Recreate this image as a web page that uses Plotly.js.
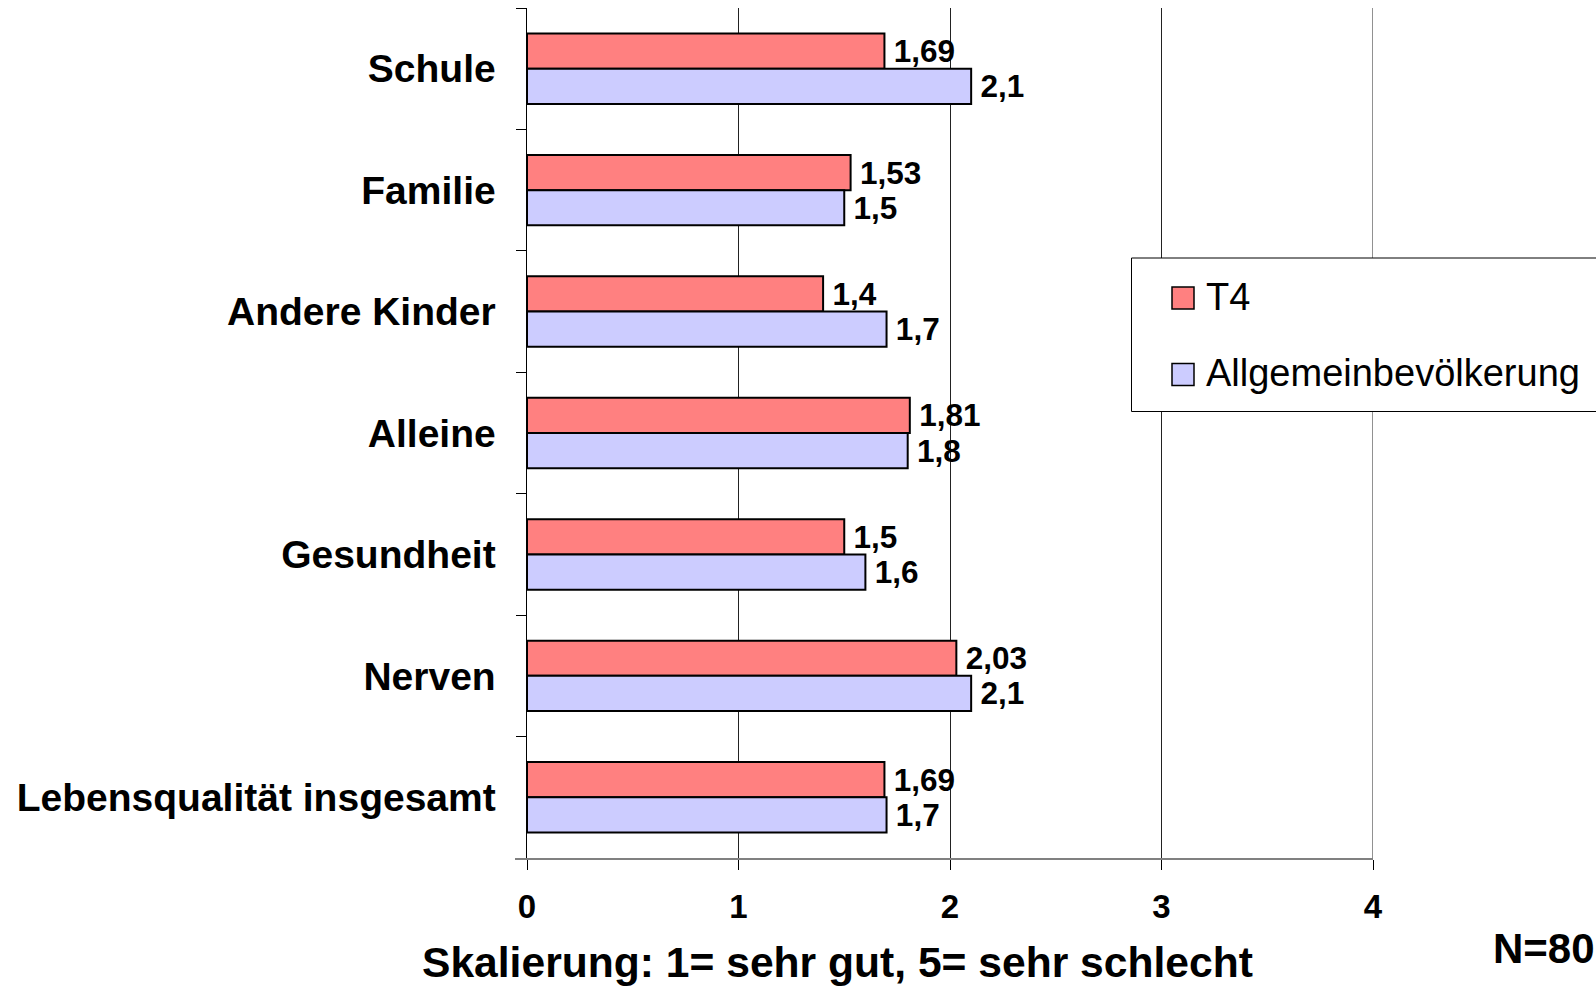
<!DOCTYPE html>
<html>
<head>
<meta charset="utf-8">
<script src="https://cdn.plot.ly/plotly-3.0.1.min.js"></script>
<style>
  html, body { margin: 0; padding: 0; background: #ffffff; }
  #chart { width: 1596px; height: 987px; }
</style>
</head>
<body>
<div id="chart"></div>
<script>
// ---- data ----
const categories = ["Schule", "Familie", "Andere Kinder", "Alleine", "Gesundheit", "Nerven", "Lebensqualität insgesamt"];
const seriesNames = ["T4", "Allgemeinbevölkerung"];
const valuesT4 = [1.69, 1.53, 1.4, 1.81, 1.5, 2.03, 1.69];
const valuesAllg = [2.1, 1.5, 1.7, 1.8, 1.6, 2.1, 1.7];
const xTickValues = [0, 1, 2, 3, 4];
const xTickLabels = ["0", "1", "2", "3", "4"];
const axisTitle = "Skalierung: 1= sehr gut, 5= sehr schlecht";
const noteText = "N=80";

// ---- layout geometry (pixels) ----
const FIG_W = 1596, FIG_H = 987;
const M = { l: 527, r: 223, t: 8, b: 129 };
const PW = FIG_W - M.l - M.r, PH = FIG_H - M.t - M.b;
const px = x => (x - M.l) / PW;
const py = y => 1 - (y - M.t) / PH;

const FONT = "Liberation Sans, Arial, Helvetica, sans-serif";
const colT4 = "#FF8080", colAllg = "#CCCCFF";
const fmt = v => "\u2009" + String(v).replace(".", ",");
const xMax = xTickValues[xTickValues.length - 1];

const barCommon = {
  type: "bar",
  orientation: "h",
  y: categories,
  textposition: "outside",
  constraintext: "none",
  cliponaxis: false,
  textfont: { family: FONT, size: 31.5, color: "#000000", weight: "bold" },
  hoverinfo: "skip",
  showlegend: false
};

const traces = [
  Object.assign({}, barCommon, {
    name: seriesNames[0], x: valuesT4, text: valuesT4.map(fmt),
    marker: { color: colT4, line: { color: "#000000", width: 2 } }
  }),
  Object.assign({}, barCommon, {
    name: seriesNames[1], x: valuesAllg, text: valuesAllg.map(fmt),
    marker: { color: colAllg, line: { color: "#000000", width: 2 } }
  })
];

const shapes = [
  // gridline at the right end of the value axis
  { type: "line", xref: "x", yref: "paper", x0: xMax, x1: xMax, y0: 0, y1: 1,
    line: { color: "#222222", width: 1 }, layer: "below" },
  // extension of x-axis line to the left of the value axis
  { type: "line", xref: "paper", yref: "paper", x0: px(515), x1: px(527), y0: py(859), y1: py(859),
    line: { color: "#808080", width: 2 }, layer: "above" },
  // legend box
  { type: "rect", xref: "paper", yref: "paper", x0: px(1131.5), x1: px(1650), y0: py(411.5), y1: py(258),
    fillcolor: "#ffffff", line: { color: "#000000", width: 1 }, layer: "above" },
  { type: "rect", xref: "paper", yref: "paper", x0: px(1172), x1: px(1194), y0: py(309), y1: py(287),
    fillcolor: colT4, line: { color: "#000000", width: 1.5 }, layer: "above" },
  { type: "rect", xref: "paper", yref: "paper", x0: px(1172), x1: px(1194), y0: py(385.5), y1: py(363.5),
    fillcolor: colAllg, line: { color: "#000000", width: 1.5 }, layer: "above" }
];

const annotations = [
  { text: seriesNames[0], xref: "paper", yref: "paper", x: px(1204), y: py(297), xanchor: "left", yanchor: "middle",
    showarrow: false, font: { family: FONT, size: 38, color: "#000000" } },
  { text: seriesNames[1], xref: "paper", yref: "paper", x: px(1204), y: py(373), xanchor: "left", yanchor: "middle",
    showarrow: false, font: { family: FONT, size: 38, color: "#000000" } },
  { text: axisTitle, xref: "paper", yref: "paper", x: px(837), y: py(962), xanchor: "center", yanchor: "middle",
    showarrow: false, font: { family: FONT, size: 42.6, color: "#000000", weight: "bold" } },
  { text: noteText, xref: "paper", yref: "paper", x: px(1491), y: py(948), xanchor: "left", yanchor: "middle",
    showarrow: false, font: { family: FONT, size: 42, color: "#000000", weight: "bold" } }
];

const layout = {
  width: FIG_W, height: FIG_H,
  margin: { l: M.l, r: M.r, t: M.t, b: M.b, pad: 0 },
  paper_bgcolor: "#ffffff", plot_bgcolor: "#ffffff",
  font: { family: FONT, color: "#000000" },
  barmode: "group",
  bargap: 0.42,
  bargroupgap: 0,
  showlegend: false,
  hovermode: false,
  xaxis: {
    range: [0, xMax],
    tickvals: xTickValues, ticktext: xTickLabels,
    ticks: "outside", ticklen: 10, tickwidth: 1, tickcolor: "#000000",
    showgrid: true, gridcolor: "#222222", gridwidth: 1,
    zeroline: false,
    showline: true, linecolor: "#808080", linewidth: 2,
    tickfont: { family: FONT, size: 33, color: "#000000", weight: "bold" },
    ticklabelstandoff: 8,
    fixedrange: true
  },
  yaxis: {
    type: "category",
    categoryorder: "array", categoryarray: categories,
    autorange: "reversed",
    tickson: "boundaries",
    ticks: "outside", ticklen: 10, tickwidth: 1, tickcolor: "#000000",
    showgrid: false, zeroline: false,
    showline: true, linecolor: "#000000", linewidth: 1.5,
    tickfont: { family: FONT, size: 39, color: "#000000", weight: "bold" },
    ticklabelstandoff: 22,
    fixedrange: true
  },
  shapes: shapes,
  annotations: annotations
};

Plotly.newPlot("chart", traces, layout, { displayModeBar: false, staticPlot: true });
</script>
</body>
</html>
